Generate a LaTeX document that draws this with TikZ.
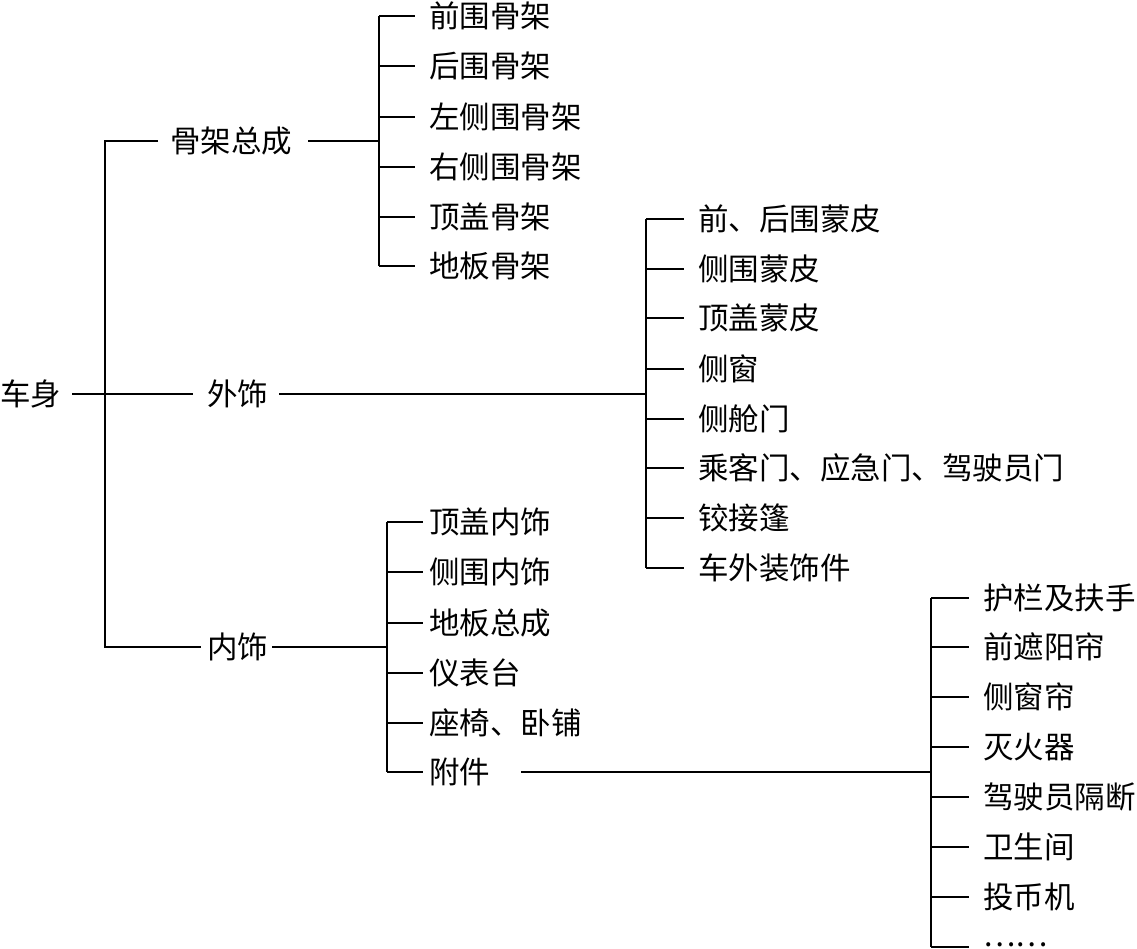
\documentclass[tikz,border=0pt]{standalone}
\usepackage{fontspec}
\newfontfamily\cjk{Noto Sans CJK SC}
\begin{document}
\begin{tikzpicture}[x=1pt,y=-1pt,
  lbl/.style={anchor=west,inner sep=0pt,font=\cjk\fontsize{30.5}{34}\selectfont,text height=23pt,text depth=0pt},
  ln/.style={line width=1.6pt,black}]
\useasboundingbox (0,0) rectangle (1137,948);
% bus x positions
\coordinate (b0) at (105,0);
\coordinate (b1) at (379,0);
\coordinate (b2) at (646,0);
\coordinate (b3) at (387,0);
\coordinate (b4) at (931,0);
% root and level 1
\node[lbl] (root) at (0,394) {车身};
\node[lbl] (gujia) at (170,141) {骨架总成};
\node[lbl] (wai) at (207,394) {外饰};
\node[lbl] (nei) at (207,647) {内饰};
% group 1
\node[lbl] (g1) at (429,16) {前围骨架};
\node[lbl] (g2) at (429,66) {后围骨架};
\node[lbl] (g3) at (429,117) {左侧围骨架};
\node[lbl] (g4) at (429,167) {右侧围骨架};
\node[lbl] (g5) at (429,217) {顶盖骨架};
\node[lbl] (g6) at (429,266) {地板骨架};
% group 2
\node[lbl] (w1) at (698,219) {前、后围蒙皮};
\node[lbl] (w2) at (698,269) {侧围蒙皮};
\node[lbl] (w3) at (698,318) {顶盖蒙皮};
\node[lbl] (w4) at (698,369) {侧窗};
\node[lbl] (w5) at (698,419) {侧舱门};
\node[lbl] (w6) at (698,468) {乘客门、应急门、驾驶员门};
\node[lbl] (w7) at (698,518) {铰接篷};
\node[lbl] (w8) at (698,568) {车外装饰件};
% group 3
\node[lbl] (n1) at (429,522) {顶盖内饰};
\node[lbl] (n2) at (429,572) {侧围内饰};
\node[lbl] (n3) at (429,623) {地板总成};
\node[lbl] (n4) at (429,673) {仪表台};
\node[lbl] (n5) at (429,723) {座椅、卧铺};
\node[lbl] (n6) at (429,772) {附件};
% group 4
\node[lbl] (f1) at (983,598) {护栏及扶手};
\node[lbl] (f2) at (983,647) {前遮阳帘};
\node[lbl] (f3) at (983,697) {侧窗帘};
\node[lbl] (f4) at (983,747) {灭火器};
\node[lbl] (f5) at (983,797) {驾驶员隔断};
\node[lbl] (f6) at (983,847) {卫生间};
\node[lbl] (f7) at (983,897) {投币机};
\node[lbl,text height=0pt,text depth=2pt] (f8) at (983,947) {……};
% connectors level 0-1
\draw[ln] ([xshift=11pt]root.east) -- ([xshift=-14pt]wai.west);
\draw[ln] ([xshift=-12pt]gujia.west) -- (gujia.west -| b0) -- (nei.west -| b0) -- ([xshift=-6pt]nei.west);
% group 1
\draw[ln] ([xshift=16pt]gujia.east) -- (gujia.east -| b1);
\draw[ln] (g1.west -| b1) -- (g6.west -| b1);
\foreach \n in {g1,g2,g3,g4,g5,g6}
  \draw[ln] (\n.west -| b1) -- ([xshift=-14pt]\n.west);
% group 2
\draw[ln] ([xshift=11pt]wai.east) -- (wai.east -| b2);
\draw[ln] (w1.west -| b2) -- (w8.west -| b2);
\foreach \n in {w1,w2,w3,w4,w5,w6,w7,w8}
  \draw[ln] (\n.west -| b2) -- ([xshift=-14pt]\n.west);
% group 3
\draw[ln] ([xshift=4pt]nei.east) -- (nei.east -| b3);
\draw[ln] (n1.west -| b3) -- (n6.west -| b3);
\foreach \n in {n1,n2,n3,n4,n5,n6}
  \draw[ln] (\n.west -| b3) -- ([xshift=-6pt]\n.west);
% group 4
\draw[ln] ([xshift=31pt]n6.east) -- (n6.east -| b4);
\draw[ln] (f1.west -| b4) -- (f8.west -| b4);
\foreach \n in {f1,f2,f3,f4,f5,f6,f7,f8}
  \draw[ln] (\n.west -| b4) -- ([xshift=-14pt]\n.west);
\end{tikzpicture}
\end{document}
